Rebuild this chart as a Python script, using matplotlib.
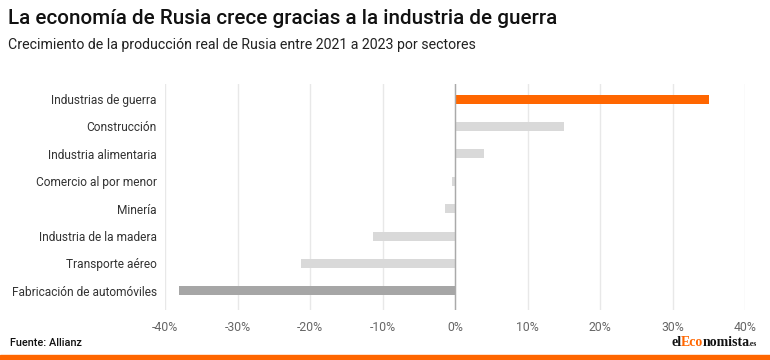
import matplotlib.pyplot as plt
from matplotlib.ticker import FuncFormatter
from matplotlib.transforms import offset_copy
import numpy as np

sectores = ['Industrias de guerra', 'Construcción', 'Industria alimentaria',
            'Comercio al por menor', 'Minería', 'Industria de la madera',
            'Transporte aéreo', 'Fabricación de automóviles']
crecimiento = [35, 15, 4, -0.4, -1.4, -11.3, -21.2, -38.1]
colores = ['#ff6600', '#d9d9d9', '#d9d9d9', '#d9d9d9', '#d9d9d9', '#d9d9d9',
           '#d9d9d9', '#a6a6a6']
ticks = [-40, -30, -20, -10, 0, 10, 20, 30, 40]

plt.rcParams['font.family'] = ['Roboto', 'DejaVu Sans']

fig = plt.figure(figsize=(7.7, 3.6), dpi=100)
ax = fig.add_axes([165 / 770, 1 - 310 / 360, 580 / 770, 226 / 360])

y = np.arange(len(sectores))
ax.barh(y, crecimiento, height=0.33, color=colores, zorder=3)

ax.set_xlim(-40, 40)
ax.set_ylim(7.7, -0.55)
ax.set_xticks(ticks)
ax.xaxis.set_major_formatter(FuncFormatter(lambda v, p: f'{v:.0f}%'))
ax.set_yticks(y)
ax.set_yticklabels(sectores, fontsize=8.6, color='#333333')
ax.tick_params(axis='y', length=0, pad=6)
ax.tick_params(axis='x', length=0, pad=8, labelsize=8.8, labelcolor='#666666')
ax.grid(axis='x', color='#e8e8e8', linewidth=1, zorder=0)
ax.axvline(0, color='#aaaaaa', linewidth=1, zorder=4)
for s in ax.spines.values():
    s.set_visible(False)

fig.text(8 / 770, 1 - 18 / 360, 'La economía de Rusia crece gracias a la industria de guerra',
         fontsize=14.9, fontweight='medium', color='#111111', va='center')
fig.text(8 / 770, 1 - 45 / 360, 'Crecimiento de la producción real de Rusia entre 2021 a 2023 por sectores',
         fontsize=10.2, color='#222222', va='center')
fig.text(10 / 770, 1 - 343 / 360, 'Fuente: Allianz', fontsize=7.8, fontweight='medium',
         color='#111111', va='center')

# logo, piezas encadenadas
renderer = fig.canvas.get_renderer()
trans = fig.transFigure
x0 = 671 / 770
base = 1 - 346 / 360
piezas = [('el', '#111111', 10), ('Eco', '#ff6600', 10), ('nomista', '#111111', 10), ('.es', '#111111', 5.5)]
dx = 0
for txt, col, fs in piezas:
    t = fig.text(x0, base, txt, fontsize=fs, fontweight='bold', family='Liberation Serif',
                 color=col, va='baseline', transform=offset_copy(trans, fig=fig, x=dx, units='dots'))
    dx += t.get_window_extent(renderer).width - 0.5

fig.patches.append(plt.Rectangle((0, 0), 1, 5 / 360, transform=fig.transFigure,
                                 color='#ff6600', zorder=5))

fig.savefig('out.png', dpi=100)
